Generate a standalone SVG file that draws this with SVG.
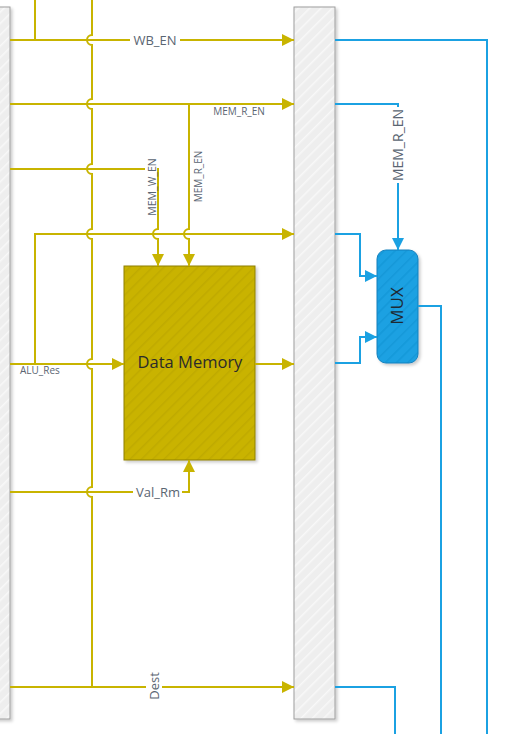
<svg xmlns="http://www.w3.org/2000/svg" width="522" height="734" viewBox="0 0 522 734">
<style>
.y{fill:none;stroke:#C8B400;stroke-width:2}
.b{fill:none;stroke:#1BA1E2;stroke-width:2}
.lbl{font-family:"Open Sans","Liberation Sans",sans-serif;fill:#5A6572}
.bg{fill:#FFFFFF}
.bar{fill:url(#hatchG);stroke:#9E9E9E;stroke-width:1}
</style>
<defs>
<pattern id="hatchG" patternUnits="userSpaceOnUse" width="8" height="8" patternTransform="rotate(45)">
<rect width="8" height="8" fill="#EEEEEE"/>
<line x1="0" y1="0" x2="0" y2="8" stroke="#F8F8F8" stroke-width="3"/>
</pattern>
<pattern id="hatchY" patternUnits="userSpaceOnUse" width="8" height="8" patternTransform="rotate(45)">
<rect width="8" height="8" fill="#C9B300"/>
<line x1="0" y1="0" x2="0" y2="8" stroke="#BFAA00" stroke-width="3"/>
</pattern>
<pattern id="hatchB" patternUnits="userSpaceOnUse" width="8" height="8" patternTransform="rotate(45)">
<rect width="8" height="8" fill="#1BA1E2"/>
<line x1="0" y1="0" x2="0" y2="8" stroke="#1798D8" stroke-width="3"/>
</pattern>
<filter id="sh" x="-20%" y="-5%" width="150%" height="115%">
<feDropShadow dx="2" dy="2" stdDeviation="1.5" flood-color="#000000" flood-opacity="0.2"/>
</filter>
<marker id="ay" viewBox="0 0 12 12" refX="12" refY="6" markerWidth="12" markerHeight="12" markerUnits="userSpaceOnUse" orient="auto">
<path d="M0,0 L12,6 L0,12 Z" fill="#C8B400"/>
</marker>
<marker id="ab" viewBox="0 0 12 12" refX="12" refY="6" markerWidth="12" markerHeight="12" markerUnits="userSpaceOnUse" orient="auto">
<path d="M0,0 L12,6 L0,12 Z" fill="#1BA1E2"/>
</marker>
</defs>
<rect width="522" height="734" fill="#FFFFFF"/>

<g id="left-bar">
<rect class="bar" x="-30" y="7" width="40" height="712" filter="url(#sh)"/>
</g>
<g id="right-bar">
<rect class="bar" x="294" y="7" width="41" height="712" filter="url(#sh)"/>
</g>
<g id="data-memory">
<rect x="124" y="266" width="131" height="194" fill="url(#hatchY)" stroke="#8F8000" stroke-width="1" filter="url(#sh)"/>
<text x="190" y="368" text-anchor="middle" font-family="'Open Sans','Liberation Sans',sans-serif" font-size="16.5" fill="#2B2B2B">Data Memory</text>
</g>
<g id="mux">
<rect x="377" y="250" width="41" height="113" rx="9" ry="9" fill="url(#hatchB)" stroke="#1580BD" stroke-width="1" filter="url(#sh)"/>
<text transform="translate(397,306) rotate(-90)" x="0" y="6" text-anchor="middle" font-family="'Open Sans','Liberation Sans',sans-serif" font-size="17" fill="#1E2A33">MUX</text>
</g>

<g id="connectors">
<path class="y" d="M35,0 V40"/>
<path class="y" d="M10,40 H294" marker-end="url(#ay)"/>
<path class="y" d="M10,104 H294" marker-end="url(#ay)"/>
<path class="y" d="M10,169 H158 V229 A5,5 0 0,0 158,239 V266" marker-end="url(#ay)"/>
<path class="y" d="M189,104 V229 A5,5 0 0,0 189,239 V266" marker-end="url(#ay)"/>
<path class="y" d="M35,364 V234 H294" marker-end="url(#ay)"/>
<path class="y" d="M10,364 H124" marker-end="url(#ay)"/>
<path class="y" d="M255,364 H294" marker-end="url(#ay)"/>
<path class="y" d="M10,492 H189 V460" marker-end="url(#ay)"/>
<path class="y" d="M10,687 H294" marker-end="url(#ay)"/>
<path class="y" d="M92,0 V35 A5,5 0 0,0 92,45 V99 A5,5 0 0,0 92,109 V164 A5,5 0 0,0 92,174 V229 A5,5 0 0,0 92,239 V359 A5,5 0 0,0 92,369 V487 A5,5 0 0,0 92,497 V687"/>
<path class="b" d="M335,40 H487 V734"/>
<path class="b" d="M335,104 H398 V250" marker-end="url(#ab)"/>
<path class="b" d="M335,234 H360 V276 H377" marker-end="url(#ab)"/>
<path class="b" d="M335,363 H360 V337 H377" marker-end="url(#ab)"/>
<path class="b" d="M418,306 H441 V734"/>
<path class="b" d="M335,687 H395 V734"/>

<rect class="bg" x="130" y="32" width="50" height="16"/>
<text class="lbl" x="155" y="44.5" text-anchor="middle" font-size="13">WB_EN</text>
<text class="lbl" x="239" y="115" text-anchor="middle" font-size="10">MEM_R_EN</text>
<rect class="bg" x="193" y="148" width="11" height="57"/>
<text class="lbl" transform="translate(198.5,176.5) rotate(-90)" x="0" y="3.5" text-anchor="middle" font-size="10">MEM_R_EN</text>
<rect class="bg" x="145" y="156" width="12" height="62"/>
<text class="lbl" transform="translate(152,187) rotate(-90)" x="0" y="3.5" text-anchor="middle" font-size="10.5">MEM_W_EN</text>
<text class="lbl" x="20" y="373.5" font-size="10">ALU_Res</text>
<rect class="bg" x="133" y="484" width="49" height="16"/>
<text class="lbl" x="158" y="496.5" text-anchor="middle" font-size="13">Val_Rm</text>
<rect class="bg" x="146" y="671" width="16" height="30"/>
<text class="lbl" transform="translate(154,686) rotate(-90)" x="0" y="4.5" text-anchor="middle" font-size="13">Dest</text>
<rect class="bg" x="390" y="107" width="16" height="76"/>
<text class="lbl" transform="translate(398,145) rotate(-90)" x="0" y="5" text-anchor="middle" font-size="14">MEM_R_EN</text>
</g>
</svg>
